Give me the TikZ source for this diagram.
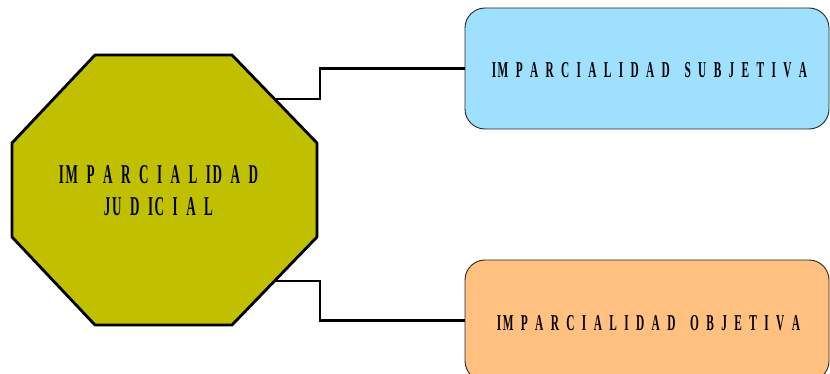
\documentclass[tikz,border=0pt]{standalone}
\usepackage{fontspec}
\setmainfont{Liberation Serif}
\usepackage{graphicx}
\definecolor{octfill}{HTML}{C0C000}
\definecolor{subjfill}{HTML}{A0E0FF}
\definecolor{objfill}{HTML}{FFC080}
% condensed, letter-spaced caption text squeezed to a given width and cap height
\newcommand{\squeezed}[3]{\resizebox{#1}{#2}{\bfseries\spaceskip=0.65em\relax #3}}
% small gap for letter pairs set close together
\newcommand{\tg}{\kern0.12em}
\begin{document}
\begin{tikzpicture}[x=1pt,y=-1pt,
  lbl/.style={inner sep=0pt, anchor=base},
  bubble/.style={draw=black!85, line width=0.9pt, rounded corners=20pt,
    minimum width=364pt, minimum height=121pt, inner sep=0pt},
  link/.style={line width=2.8pt, line join=miter},
  octagon/.style={draw=black, line width=2.8pt, line join=miter, fill=octfill}]
\useasboundingbox (0,0) rectangle (830,374);

% central octagon
\draw[octagon] (95,55) -- (232,55) -- (317,143) -- (317,237) -- (232,325)
  -- (95,325) -- (12,237) -- (12,143) -- cycle;
\node[lbl] (judA) at (158.5,184) {\squeezed{199pt}{18pt}{I\tg M P A R C I A L I\tg D A D}};
\node[lbl] (judB) at (158.5,216) {\squeezed{109pt}{18pt}{J\tg U D I\tg C I A L}};

% attachment points on the octagon's right diagonals
\coordinate (octNE) at (274.5,99);
\coordinate (octSE) at (274.5,281);

% the two branch boxes
\node[bubble, fill=subjfill] (subj) at (647,68.5) {};
\node[lbl] (subjtext) at (649.5,78) {\squeezed{315pt}{15pt}{I\tg M P A R C I A L I D A D \ S U B J E T I V A}};
\node[bubble, fill=objfill] (obj) at (647,320.5) {};
\node[lbl] (objtext) at (648.5,330) {\squeezed{303pt}{15pt}{I\tg M P A R C I A L I D A D \ O B J E T I V A}};

% elbow connectors
\draw[link] (octNE) -- ++(45.5,0) |- (subj.west);
\draw[link] (octSE) -- ++(45.5,0) |- (obj.west);
\end{tikzpicture}
\end{document}
